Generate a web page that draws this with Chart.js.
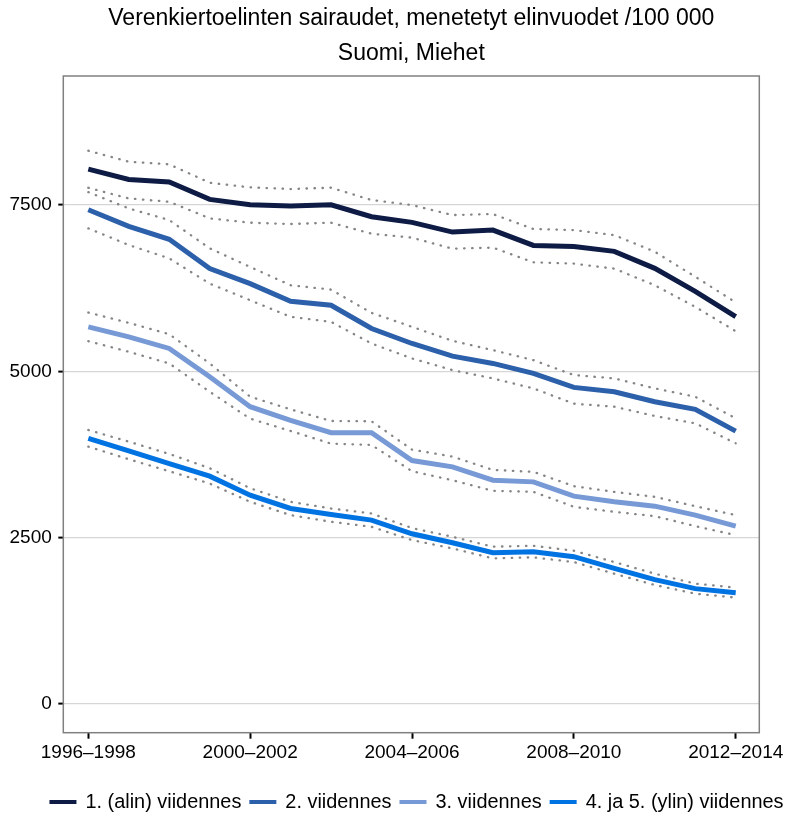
<!DOCTYPE html>
<html>
<head>
<meta charset="utf-8">
<script src="https://cdn.jsdelivr.net/npm/chart.js@4/dist/chart.umd.min.js"></script>
<style>
  body { margin: 0; background: #fff; }
</style>
</head>
<body>
<canvas id="chart" width="787" height="817"></canvas>
<script>
const periods = [
  "1996–1998", "1997–1999", "1998–2000", "1999–2001", "2000–2002", "2001–2003",
  "2002–2004", "2003–2005", "2004–2006", "2005–2007", "2006–2008", "2007–2009",
  "2008–2010", "2009–2011", "2010–2012", "2011–2013", "2012–2014"
];
const xTicks = [0, 4, 8, 12, 16];
const yTicks = [0, 2500, 5000, 7500];

const seriesNames = ["1. (alin) viidennes", "2. viidennes", "3. viidennes", "4. ja 5. (ylin) viidennes"];
const seriesColors = ["#0d1b45", "#2d60aa", "#7799d6", "#0073e3"];

const q1 = [8040, 7885, 7846, 7585, 7505, 7485, 7505, 7325, 7240, 7094, 7124, 6894, 6879, 6804, 6549, 6203, 5822];
const q1Hi = [8317, 8152, 8112, 7836, 7766, 7741, 7761, 7576, 7500, 7350, 7365, 7140, 7124, 7049, 6799, 6423, 6038];
const q1Lo = [7760, 7600, 7550, 7300, 7235, 7215, 7235, 7070, 7010, 6845, 6860, 6640, 6620, 6545, 6295, 5970, 5605];

const q2 = [7430, 7180, 6985, 6545, 6320, 6055, 5995, 5645, 5420, 5230, 5120, 4970, 4760, 4695, 4545, 4430, 4103];
const q2Hi = [7695, 7450, 7275, 6850, 6570, 6295, 6230, 5880, 5670, 5460, 5320, 5170, 4945, 4895, 4745, 4620, 4295];
const q2Lo = [7150, 6900, 6700, 6320, 6070, 5820, 5745, 5420, 5195, 5020, 4895, 4745, 4515, 4470, 4330, 4220, 3920];

const q3 = [5670, 5520, 5345, 4920, 4470, 4265, 4080, 4080, 3660, 3565, 3365, 3340, 3125, 3040, 2975, 2840, 2675];
const q3Hi = [5885, 5730, 5560, 5120, 4620, 4430, 4255, 4250, 3825, 3720, 3520, 3490, 3275, 3190, 3115, 2975, 2840];
const q3Lo = [5455, 5295, 5120, 4695, 4290, 4105, 3915, 3895, 3500, 3365, 3205, 3190, 2965, 2890, 2825, 2675, 2540];

const q4 = [3995, 3805, 3615, 3425, 3140, 2940, 2850, 2765, 2560, 2425, 2275, 2290, 2215, 2040, 1870, 1735, 1675];
const q4Hi = [4120, 3945, 3760, 3545, 3245, 3040, 2940, 2865, 2645, 2515, 2365, 2380, 2305, 2135, 1960, 1810, 1750];
const q4Lo = [3870, 3680, 3500, 3315, 3040, 2840, 2740, 2665, 2465, 2340, 2190, 2205, 2135, 1960, 1790, 1660, 1600];

const mains = [q1, q2, q3, q4];
const bands = [[q1Hi, q1Lo], [q2Hi, q2Lo], [q3Hi, q3Lo], [q4Hi, q4Lo]];

const FONT = "'Liberation Sans', Arial, Helvetica, sans-serif";
const pts = arr => arr.map((v, i) => ({ x: i, y: v }));

const datasets = [];
mains.forEach((arr, k) => {
  datasets.push({
    label: seriesNames[k],
    data: pts(arr),
    borderColor: seriesColors[k],
    backgroundColor: seriesColors[k],
    borderWidth: 5,
    pointRadius: 0,
    tension: 0,
    order: 0
  });
});
bands.forEach(pair => {
  pair.forEach(arr => {
    datasets.push({
      label: "",
      data: pts(arr),
      borderColor: "#858585",
      borderWidth: 2.3,
      borderDash: [0.5, 7.5],
      borderCapStyle: "round",
      pointRadius: 0,
      tension: 0,
      order: 1
    });
  });
});

// grey frame round the plot area
const frame = {
  id: "frame",
  afterDatasetsDraw(chart) {
    const { ctx, chartArea: a } = chart;
    ctx.save();
    ctx.strokeStyle = "#808080";
    ctx.lineWidth = 1.5;
    ctx.strokeRect(a.left, a.top, a.right - a.left, a.bottom - a.top);
    ctx.restore();
  }
};

// legend row at the bottom, only the four main lines
const bottomLegend = {
  id: "bottomLegend",
  afterDraw(chart) {
    const ctx = chart.ctx;
    const y = 802;
    const boxW = 27, gapText = 9, gapItem = 8;
    ctx.save();
    ctx.font = "19.9px " + FONT;
    ctx.textBaseline = "middle";
    const widths = seriesNames.map(n => ctx.measureText(n).width);
    let total = 0;
    widths.forEach(w => { total += boxW + gapText + w; });
    total += gapItem * (widths.length - 1);
    let x = 416.5 - total / 2;
    seriesNames.forEach((name, k) => {
      ctx.fillStyle = seriesColors[k];
      ctx.fillRect(x, y - 2, boxW, 4);
      x += boxW + gapText;
      ctx.fillStyle = "#000";
      ctx.fillText(name, x, y + 1);
      x += widths[k] + gapItem;
    });
    ctx.restore();
  }
};

new Chart(document.getElementById("chart").getContext("2d"), {
  type: "line",
  data: { datasets },
  options: {
    responsive: false,
    animation: false,
    devicePixelRatio: 1,
    layout: { padding: { left: 0, right: 27.7, top: 0, bottom: 54.3 } },
    plugins: {
      legend: { display: false },
      tooltip: { enabled: false },
      title: {
        display: true,
        fullSize: false,
        text: ["Verenkiertoelinten sairaudet, menetetyt elinvuodet /100 000", "Suomi, Miehet"],
        color: "#000",
        font: { family: FONT, size: 23, weight: "normal", lineHeight: 35 / 23 },
        padding: { top: 1, bottom: 5 }
      }
    },
    scales: {
      x: {
        type: "linear",
        min: -0.618,
        max: 16.583,
        afterBuildTicks: s => { s.ticks = xTicks.map(v => ({ value: v })); },
        afterFit: s => { s.height = 30; },
        border: { display: false },
        grid: { drawOnChartArea: false, tickColor: "#000", tickLength: 6, tickWidth: 2 },
        ticks: {
          padding: 2.4,
          maxRotation: 0,
          autoSkip: false,
          color: "#000",
          font: { family: FONT, size: 19 },
          callback: v => periods[v]
        }
      },
      y: {
        min: -430,
        max: 9440,
        afterBuildTicks: s => { s.ticks = yTicks.map(v => ({ value: v })); },
        afterFit: s => { s.width = 63.3; },
        border: { display: false },
        grid: { color: "#d6d6d6", lineWidth: 1.2, tickColor: "#000", tickLength: 5, tickWidth: 2 },
        ticks: {
          padding: 6.5,
          color: "#000",
          font: { family: FONT, size: 19 },
          callback: v => String(v)
        }
      }
    }
  },
  plugins: [frame, bottomLegend]
});
</script>
</body>
</html>
